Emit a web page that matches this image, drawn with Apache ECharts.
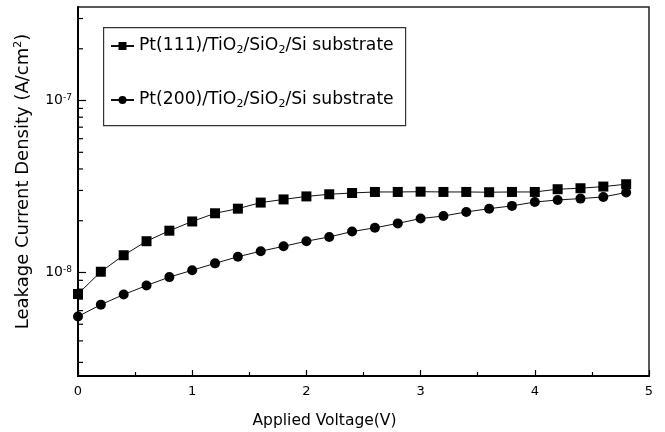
<!DOCTYPE html>
<html>
<head>
<meta charset="utf-8">
<script src="https://cdn.jsdelivr.net/npm/echarts@6/dist/echarts.min.js"></script>
<style>html,body{margin:0;padding:0;background:#fff}#c{width:665px;height:432px}</style>
</head>
<body>
<div id="c"></div>
<script>
// ---- data ----
const voltage = [0, 0.2, 0.4, 0.6, 0.8, 1.0, 1.2, 1.4, 1.6, 1.8, 2.0, 2.2, 2.4, 2.6, 2.8, 3.0, 3.2, 3.4, 3.6, 3.8, 4.0, 4.2, 4.4, 4.6, 4.8];
const pt111 = [7.5e-9, 1.01e-8, 1.26e-8, 1.52e-8, 1.75e-8, 1.98e-8, 2.21e-8, 2.35e-8, 2.55e-8, 2.66e-8, 2.77e-8, 2.85e-8, 2.90e-8, 2.94e-8, 2.94e-8, 2.95e-8, 2.94e-8, 2.94e-8, 2.93e-8, 2.94e-8, 2.94e-8, 3.05e-8, 3.09e-8, 3.16e-8, 3.26e-8];
const pt200 = [5.55e-9, 6.5e-9, 7.44e-9, 8.4e-9, 9.4e-9, 1.03e-8, 1.13e-8, 1.235e-8, 1.33e-8, 1.42e-8, 1.52e-8, 1.61e-8, 1.73e-8, 1.82e-8, 1.93e-8, 2.06e-8, 2.13e-8, 2.25e-8, 2.35e-8, 2.44e-8, 2.57e-8, 2.64e-8, 2.69e-8, 2.75e-8, 2.92e-8];
const seriesNames = ['Pt(111)/TiO2/SiO2/Si substrate', 'Pt(200)/TiO2/SiO2/Si substrate'];
const xTicks = [0, 1, 2, 3, 4, 5];
const yMajorTicks = [1e-8, 1e-7];
const yMinorTicks = [3e-9, 4e-9, 5e-9, 6e-9, 7e-9, 8e-9, 9e-9, 2e-8, 3e-8, 4e-8, 5e-8, 6e-8, 7e-8, 8e-8, 9e-8, 2e-7, 3e-7];
const yRange = [2.5e-9, 3.5e-7];
const xTitle = 'Applied Voltage(V)';
const yTitle = 'Leakage Current Density (A/cm{sup|2})';

// ---- chart ----
const FONT = 'DejaVu Sans';
const chart = echarts.init(document.getElementById('c'), null, {renderer: 'canvas'});
const pairs = (ys) => voltage.map((v, i) => [v, ys[i]]);
const isMajor = (v) => yMajorTicks.some(t => Math.abs(Math.log10(t) - Math.log10(v)) < 1e-6);

const option = {
  animation: false,
  backgroundColor: '#fff',
  grid: {left: 78, right: 16, top: 7, bottom: 56, show: true, borderColor: '#222', borderWidth: 1.5,
         containLabel: false, outerBoundsMode: 'none'},
  graphic: [{
    type: 'rect', left: 103, top: 27, z: 10,
    shape: {width: 302, height: 98},
    style: {fill: '#fff', stroke: '#333', lineWidth: 1.2}
  }],
  legend: {
    data: seriesNames,
    orient: 'vertical', left: 110, top: 36, padding: 0, itemGap: 34,
    itemWidth: 23, itemHeight: 10, z: 11,
    formatter: (n) => n.replace(/O2/g, 'O{sub|2}'),
    textStyle: {
      fontFamily: FONT, fontSize: 17.2, color: '#000', lineHeight: 20,
      rich: {sub: {fontFamily: FONT, fontSize: 11, lineHeight: 9, verticalAlign: 'bottom', color: '#000'}}
    }
  },
  xAxis: {
    type: 'value', min: xTicks[0], max: xTicks[xTicks.length - 1], interval: 1,
    name: xTitle, nameLocation: 'middle', nameGap: 37,
    nameTextStyle: {fontFamily: FONT, fontSize: 15.5, color: '#000', padding: [0, 78, 0, 0]},
    axisLine: {show: true, onZero: false, lineStyle: {color: '#000', width: 2}},
    axisTick: {show: true, inside: true, length: 6, lineStyle: {color: '#000', width: 1.2}},
    minorTick: {show: true, splitNumber: 2, length: 4, lineStyle: {color: '#000', width: 1.2}},
    axisLabel: {fontFamily: FONT, fontSize: 13, color: '#000', margin: 9},
    splitLine: {show: false}
  },
  yAxis: {
    type: 'log', logBase: 10, min: yRange[0], max: yRange[1],
    name: yTitle, nameLocation: 'middle', nameGap: 38, nameRotate: 90,
    nameTextStyle: {
      fontFamily: FONT, fontSize: 18, color: '#000', lineHeight: 22, padding: [0, 0, 0, 20],
      rich: {sup: {fontFamily: FONT, fontSize: 11, lineHeight: 11, verticalAlign: 'top', color: '#000'}}
    },
    axisLine: {show: true, lineStyle: {color: '#000', width: 2}},
    axisTick: {show: true, inside: true, length: 8, lineStyle: {color: '#000', width: 1.2}},
    axisLabel: {
      fontFamily: FONT, fontSize: 14, color: '#000', margin: 6,
      showMinLabel: false, showMaxLabel: false,
      formatter: (v) => isMajor(v) ? '10{sup|' + Math.round(Math.log10(v)) + '}' : '',
      rich: {sup: {fontFamily: FONT, fontSize: 9, lineHeight: 8, verticalAlign: 'top', color: '#000'}}
    },
    splitLine: {show: false}
  },
  series: [
    {
      name: seriesNames[0], type: 'line', data: pairs(pt111),
      symbol: 'rect', symbolSize: 10,
      itemStyle: {color: '#000'}, lineStyle: {color: '#111', width: 1},
      z: 3
    },
    {
      name: seriesNames[1], type: 'line', data: pairs(pt200),
      symbol: 'circle', symbolSize: 10,
      itemStyle: {color: '#000'}, lineStyle: {color: '#111', width: 1},
      z: 3
    },
    {
      name: 'yMinor', type: 'custom', silent: true, clip: false,
      data: yMinorTicks.map(v => [xTicks[0], v]),
      renderItem: (params, api) => {
        const p = api.coord([api.value(0), api.value(1)]);
        return {type: 'line', shape: {x1: p[0], y1: p[1], x2: p[0] + 5, y2: p[1]}, style: {stroke: '#000', lineWidth: 1.2}};
      },
      z: 4
    }
  ]
};
chart.setOption(option);
</script>
</body>
</html>
